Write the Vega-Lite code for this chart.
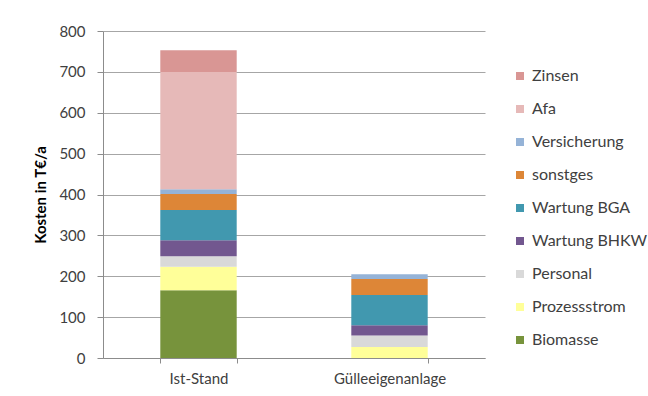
{
  "$schema": "https://vega.github.io/schema/vega-lite/v6.json",
  "width": 382,
  "height": 327,
  "autosize": {"type": "none"},
  "padding": {"left": 103, "top": 31, "right": 163, "bottom": 38},
  "background": "white",
  "config": {
    "font": "Lato",
    "view": {"stroke": null},
    "axis": {
      "labelFont": "Lato",
      "labelFontSize": 15,
      "labelColor": "#404040",
      "domainColor": "#8c8c8c",
      "tickColor": "#8c8c8c",
      "gridColor": "#a6a6a6"
    }
  },
  "data": {
    "values": [
      {"variante": "Ist-Stand", "kostenart": "Biomasse", "schicht": 1, "kosten": 166},
      {"variante": "Ist-Stand", "kostenart": "Prozessstrom", "schicht": 2, "kosten": 57},
      {"variante": "Ist-Stand", "kostenart": "Personal", "schicht": 3, "kosten": 26},
      {"variante": "Ist-Stand", "kostenart": "Wartung BHKW", "schicht": 4, "kosten": 39},
      {"variante": "Ist-Stand", "kostenart": "Wartung BGA", "schicht": 5, "kosten": 74},
      {"variante": "Ist-Stand", "kostenart": "sonstges", "schicht": 6, "kosten": 39},
      {"variante": "Ist-Stand", "kostenart": "Versicherung", "schicht": 7, "kosten": 12},
      {"variante": "Ist-Stand", "kostenart": "Afa", "schicht": 8, "kosten": 287},
      {"variante": "Ist-Stand", "kostenart": "Zinsen", "schicht": 9, "kosten": 53},
      {"variante": "Gülleeigenanlage", "kostenart": "Biomasse", "schicht": 1, "kosten": 0},
      {"variante": "Gülleeigenanlage", "kostenart": "Prozessstrom", "schicht": 2, "kosten": 27},
      {"variante": "Gülleeigenanlage", "kostenart": "Personal", "schicht": 3, "kosten": 28},
      {"variante": "Gülleeigenanlage", "kostenart": "Wartung BHKW", "schicht": 4, "kosten": 25},
      {"variante": "Gülleeigenanlage", "kostenart": "Wartung BGA", "schicht": 5, "kosten": 74},
      {"variante": "Gülleeigenanlage", "kostenart": "sonstges", "schicht": 6, "kosten": 39},
      {"variante": "Gülleeigenanlage", "kostenart": "Versicherung", "schicht": 7, "kosten": 12},
      {"variante": "Gülleeigenanlage", "kostenart": "Afa", "schicht": 8, "kosten": 0},
      {"variante": "Gülleeigenanlage", "kostenart": "Zinsen", "schicht": 9, "kosten": 0}
    ]
  },
  "mark": {"type": "bar"},
  "encoding": {
    "x": {
      "field": "variante",
      "type": "nominal",
      "sort": null,
      "scale": {"paddingInner": 0.6, "paddingOuter": 0.3},
      "axis": {
        "title": null,
        "labelAngle": 0,
        "tickBand": "extent",
        "tickSize": 5,
        "labelPadding": 8,
        "grid": false
      }
    },
    "y": {
      "field": "kosten",
      "type": "quantitative",
      "stack": "zero",
      "scale": {"domain": [0, 800], "nice": false},
      "axis": {
        "title": "Kosten  in T€/a",
        "titleFont": "Lato",
        "titleFontSize": 15,
        "titleFontWeight": "bold",
        "titleColor": "#000000",
        "titlePadding": 10,
        "values": [0, 100, 200, 300, 400, 500, 600, 700, 800],
        "tickSize": 6,
        "labelPadding": 12,
        "grid": true
      }
    },
    "color": {
      "field": "kostenart",
      "type": "nominal",
      "scale": {
        "domain": ["Zinsen", "Afa", "Versicherung", "sonstges", "Wartung BGA", "Wartung BHKW", "Personal", "Prozessstrom", "Biomasse"],
        "range": ["#d99694", "#e6b9b8", "#95b3d7", "#dd8637", "#4198af", "#72578f", "#d9d9d9", "#ffff99", "#77933c"]
      },
      "legend": {
        "title": null,
        "orient": "none",
        "legendX": 409,
        "legendY": 37,
        "symbolType": "square",
        "symbolSize": 64,
        "symbolStrokeWidth": 0,
        "labelFont": "Lato",
        "labelFontSize": 16,
        "labelColor": "#404040",
        "labelOffset": 4,
        "rowPadding": 17
      }
    },
    "order": {"field": "schicht", "type": "quantitative", "sort": "ascending"}
  }
}
